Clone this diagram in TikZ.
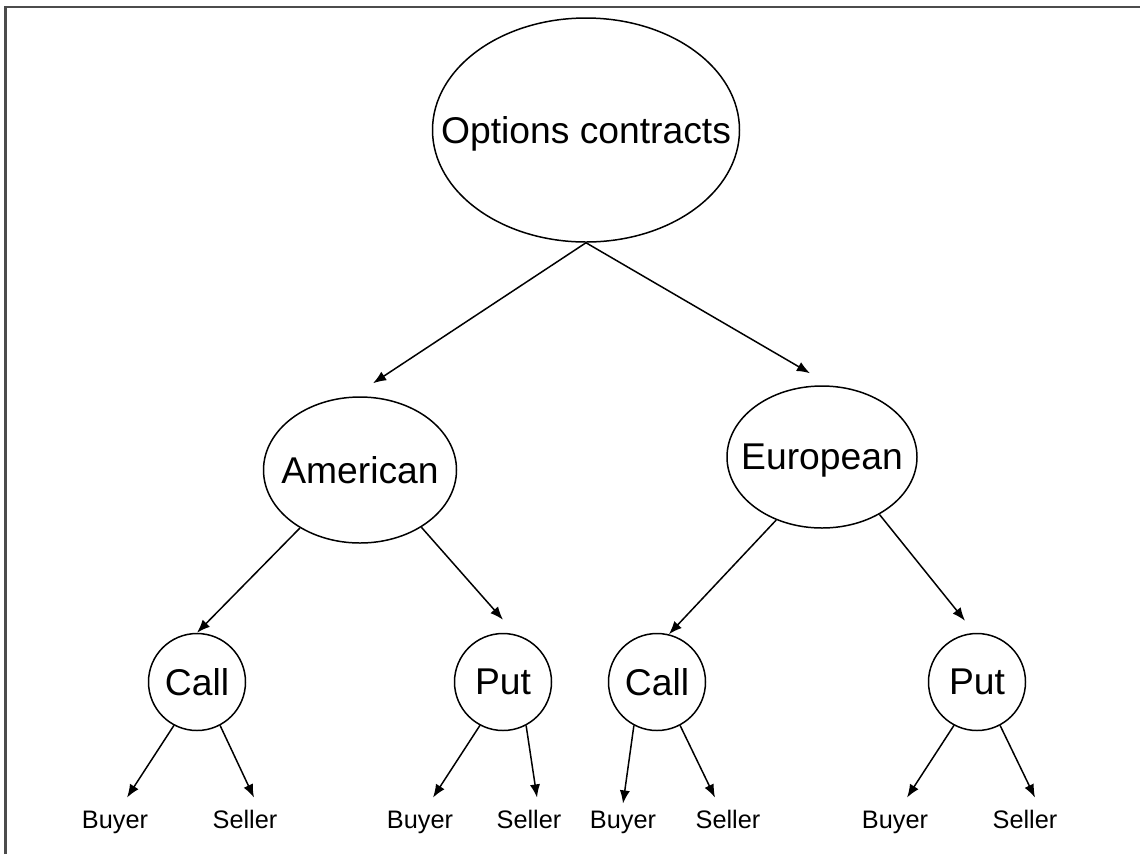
\documentclass[tikz,border=0pt]{standalone}
\usepackage{fontspec}
\setmainfont{Liberation Sans}
\usetikzlibrary{positioning, shapes.geometric, arrows.meta}
\definecolor{framecolor}{gray}{0.3}
\newcommand{\bigtext}{\fontsize{21.2pt}{25pt}\selectfont}
\newcommand{\smalltext}{\fontsize{14.4pt}{17pt}\selectfont}

\begin{document}
\begin{tikzpicture}[-{Latex[length = 7.5pt, width = 5.8pt]}, on grid,
                    line width = 0.85pt,
                    oval/.style = {ellipse,
                                   draw,
                                   inner sep = 0pt},
                    ring/.style = {circle,
                                   draw,
                                   inner sep = 0pt,
                                   minimum size = 1.94cm,
                                   font = \bigtext},
                    leaf/.style = {inner sep = 0pt,
                                   outer ysep = 0.26cm,
                                   text height = 10pt,
                                   text depth = 3pt,
                                   font = \smalltext},
                    every label/.style = {font = \bigtext, text depth = 0pt},
                    frame/.style = {-, line width = 1.7pt, framecolor}]

\useasboundingbox (0,0) rectangle (22.8,-17.08);
\draw[frame] (0.11,-17.08) -- (0.11,-0.14) -- (22.8,-0.14);

\node[oval, minimum width = 6.14cm, minimum height = 4.48cm,
      label = center:Options contracts] (O) at (11.72,-2.6) {};
\node[oval, minimum width = 3.86cm, minimum height = 2.92cm,
      label = center:American] (A) [below left  = 6.8cm and 4.52cm of O] {};
\node[oval, minimum width = 3.8cm, minimum height = 2.84cm,
      label = center:European] (E) [below right = 6.54cm and 4.72cm of O] {};

\node[ring] (AC) [below left  = 4.24cm and 3.26cm of A] {Call};
\node[ring] (AP) [below right = 4.24cm and 2.86cm of A] {Put};
\node[ring] (EC) [below left  = 4.5cm and 3.3cm of E] {Call};
\node[ring] (EP) [below right = 4.5cm and 3.1cm of E] {Put};

\node[leaf] (ACb) [below left  = 2.8cm and 1.64cm of AC] {Buyer};
\node[leaf] (ACs) [below right = 2.8cm and 0.96cm of AC] {Seller};
\node[leaf] (APb) [below left  = 2.8cm and 1.66cm of AP] {Buyer};
\node[leaf] (APs) [below right = 2.8cm and 0.52cm of AP] {Seller};
\node[leaf] (ECb) [below left  = 2.8cm and 0.68cm of EC] {Buyer};
\node[leaf] (ECs) [below right = 2.8cm and 1.42cm of EC] {Seller};
\node[leaf] (EPb) [below left  = 2.8cm and 1.64cm of EP] {Buyer};
\node[leaf] (EPs) [below right = 2.8cm and 0.96cm of EP] {Seller};

\path (O.south) edge ([shift = {(0.26,0.26)}]A.north);
\path (O.south) edge ([shift = {(-0.24,0.24)}]E.north);

\path (A.224) edge (AC.north);
\path (A.317) edge ([yshift = 0.26cm]AP.north);
\path (E.234) edge (EC.76);
\path (E.315) edge ([shift = {(-0.24,0.24)}]EP.north);

\path (AC.242) edge ([xshift = 0.24cm]ACb.north);
\path (AC.298) edge ([xshift = 0.18cm]ACs.north);
\path (AP.242) edge ([xshift = 0.26cm]APb.north);
\path (AP.298) edge ([xshift = 0.16cm]APs.north);
\path (EC.242) edge ([yshift = -0.12cm]ECb.north);
\path (EC.298) edge ([xshift = -0.26cm]ECs.north);
\path (EP.242) edge ([xshift = 0.24cm]EPb.north);
\path (EP.298) edge ([xshift = 0.2cm]EPs.north);

\end{tikzpicture}
\end{document}
